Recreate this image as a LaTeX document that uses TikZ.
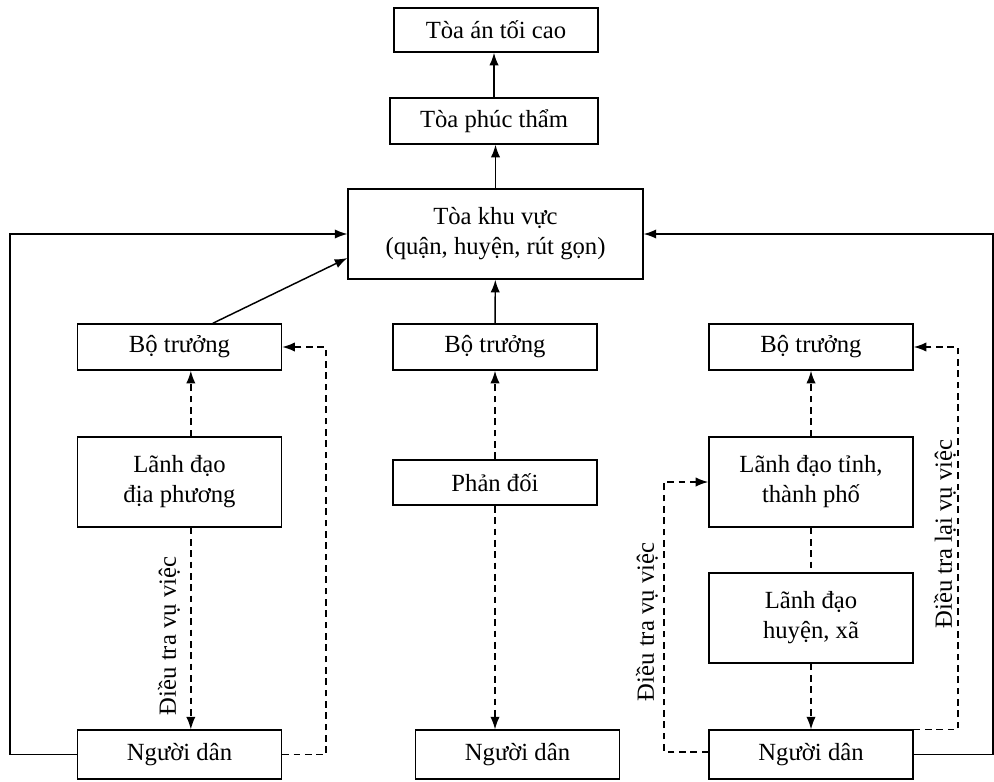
\documentclass[tikz,border=0pt]{standalone}
\usepackage{fontspec}
\setmainfont{Liberation Serif}
\usepackage{tikz}
\usetikzlibrary{arrows.meta,positioning,calc}

\begin{document}
\begin{tikzpicture}[
  x=0.75pt, y=-0.75pt,
  box/.style={draw, line width=1.1pt, minimum width=153pt,
              minimum height=34.5pt, inner sep=2pt, align=center},
  tall/.style={box, minimum height=67.5pt},
  link/.style={-{Latex[length=9.5pt,width=7pt]}, line width=1.1pt},
  check/.style={link, dash pattern=on 5pt off 3.5pt},
  dashline/.style={line width=1.1pt, dash pattern=on 5pt off 3.5pt},
  tag/.style={rotate=90, inner sep=0pt},
  every node/.style={font=\fontsize{18.5}{22.5}\selectfont}]
\useasboundingbox (0,0) rectangle (994,781);

% ---- turning points of the outer and side loops -----------------------
\coordinate (edgeL)  at ( 10,0);
\coordinate (edgeR)  at (993,0);
\coordinate (loopL)  at (326,0);
\coordinate (loopRL) at (664,0);
\coordinate (loopRR) at (958,0);

% ---- the courts ---------------------------------------------------------
\node[box, minimum height=33pt] (supreme) at (496,30) {Tòa án tối cao};
\node[box, minimum width=156pt] (appeal) at (494,121) {Tòa phúc thẩm};
\node[tall, minimum width=221pt] (district) at (495.5,234)
  {Tòa khu vực\\(quận, huyện, rút gọn)};

% ---- the three columns --------------------------------------------------
\node[box] (minL) at (179.5,347) {Bộ trưởng};
\node[box] (minM) at (495,347)   {Bộ trưởng};
\node[box] (minR) at (811,347)   {Bộ trưởng};
\node[tall] (leadL) at (179.5,482) {Lãnh đạo\\địa phương};
\node[box, minimum height=34pt] (objM) at (495,482.5) {Phản đối};
\node[tall] (leadP) at (811,482) {Lãnh đạo tỉnh,\\thành phố};
\node[tall] (leadD) at (811,618) {Lãnh đạo\\huyện, xã};
\node[box, minimum height=36.5pt] (peopL) at (179.5,754.5) {Người dân};
\node[box, minimum height=36.5pt] (peopM) at (517.5,754.5) {Người dân};
\node[box, minimum height=36.5pt] (peopR) at (811,754.5)   {Người dân};

% ---- solid links up to the courts --------------------------------------
\draw[link] (appeal.north) -- (appeal.north |- supreme.south);
\draw[link] (district.north) -- (district.north |- appeal.south);
\draw[link] (minM) -- (district);
\draw[link] ([xshift=25pt]minL.north) -- ([yshift=-18pt]district.west);
\draw[link] (peopL.west) -| (edgeL |- district.west) -- (district.west);
\draw[link] (peopR.east) -| (edgeR |- district.east) -- (district.east);

% ---- left column --------------------------------------------------------
\draw[check] ([xshift=8.5pt]leadL.north) -- ([xshift=8.5pt]minL.south);
\draw[check] ([xshift=8.5pt]leadL.south) -- ([xshift=8.5pt]peopL.north);
\node[tag] (probeL) at (169,636) {Điều tra vụ việc};
\draw[check] (peopL.east) -| (loopL |- minL.east) -- (minL.east);

% ---- middle column ------------------------------------------------------
\draw[check] (objM) -- (minM);
\draw[check] (objM.south) -- (objM.south |- peopM.north);

% ---- right column -------------------------------------------------------
\draw[check] (leadP) -- (minR);
\draw[dashline] (leadP) -- (leadD);
\draw[check] (leadD) -- (peopR);
\draw[check] ([yshift=2pt]peopR.west) -| (loopRL |- leadP.west)
  -- (leadP.west);
\node[tag] (probeR) at (647,622) {Điều tra vụ việc};
\draw[check] (peopR.north east) -| (loopRR |- minR.east) -- (minR.east);
\node[tag] (reprobe) at (945,534) {Điều tra lại vụ việc};
\end{tikzpicture}
\end{document}
